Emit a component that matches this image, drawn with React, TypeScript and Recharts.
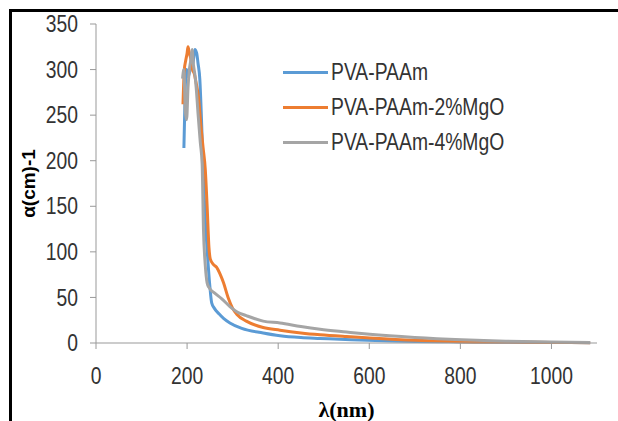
import React from 'react';
import { LineChart, Line, XAxis, YAxis } from 'recharts';

// wavelength (nm) / absorption coefficient pairs
const pvaWave = [193, 196, 199, 202, 206, 210, 213, 217, 221, 224, 228, 232, 236, 240, 245, 250, 254, 260, 270, 280, 294, 320, 367, 404, 450, 492, 560, 650, 800, 1000, 1085];
const pvaAlpha = [214, 280, 300, 292, 298, 305, 307, 322, 318, 307, 289, 240, 180, 135, 95, 62, 44, 38, 32, 27, 22, 16, 11, 8, 6, 5, 3.5, 2.2, 1.2, 0.6, 0.4];

const mg2Wave = [191, 194, 197, 200, 202, 205, 208, 212, 216, 220, 225, 230, 235, 240, 244, 248, 251, 258, 265, 272, 280, 290, 300, 310, 330, 367, 404, 450, 492, 550, 601, 700, 800, 900, 1000, 1085];
const mg2Alpha = [262, 300, 310, 318, 325, 318, 312, 300, 295, 285, 270, 240, 215, 190, 150, 105, 92, 86, 83, 76, 66, 50, 38, 31, 24, 17, 14, 11, 9, 7, 5.5, 3, 1.5, 1, 0.6, 0.4];

const mg4Wave = [190, 193, 196, 199, 202, 205, 208, 211, 214, 217, 220, 224, 229, 233, 236, 240, 244, 248, 260, 275, 294, 310, 330, 367, 404, 450, 492, 550, 601, 700, 803, 900, 1000, 1085];
const mg4Alpha = [290, 300, 255, 245, 280, 300, 310, 322, 305, 295, 280, 252, 220, 197, 124, 85, 66, 61, 55, 49, 40, 34, 30, 24, 22, 18, 15, 12, 9.5, 6, 3.5, 2, 1, 0.5];

const seriesNames = ['PVA-PAAm', 'PVA-PAAm-2%MgO', 'PVA-PAAm-4%MgO'];
const seriesColors = ['#5B9BD5', '#ED7D31', '#A5A5A5'];

const xTicks = [0, 200, 400, 600, 800, 1000];
const yTicks = [0, 50, 100, 150, 200, 250, 300, 350];

const zip = (xs: number[], ys: number[]) => xs.map((x, i) => ({ x, y: ys[i] }));
const allSeries = [zip(pvaWave, pvaAlpha), zip(mg2Wave, mg2Alpha), zip(mg4Wave, mg4Alpha)];

const font = '"Liberation Sans", Arial, sans-serif';
const squeeze = 0.84; // the original uses a narrow font

// tick label drawn with a horizontal squeeze to mimic the condensed face
const NarrowTick = (props: any) => {
  const { x, y, payload, textAnchor, orientation } = props;
  const dy = orientation === 'bottom' ? '0.71em' : '0.355em';
  return (
    <g transform={`translate(${x},${y}) scale(${squeeze},1)`}>
      <text x={0} y={0} dy={dy} textAnchor={textAnchor} fill="#333" fontSize={23} fontFamily={font}>
        {payload.value}
      </text>
    </g>
  );
};

const LegendBox = () => (
  <div style={{ position: 'absolute', left: 283, top: 55, fontFamily: font, fontSize: 23, color: '#333' }}>
    {seriesNames.map((name, i) => (
      <div key={name} style={{ display: 'flex', alignItems: 'center', height: 35, whiteSpace: 'nowrap' }}>
        <span style={{ display: 'inline-block', width: 45, height: 3, background: seriesColors[i], marginRight: 3 }} />
        <span style={{ display: 'inline-block', transform: `scaleX(${squeeze})`, transformOrigin: 'left center' }}>{name}</span>
      </div>
    ))}
  </div>
);

export default function App() {
  return (
    <div style={{ position: 'absolute', left: 0, top: 0, width: 618, height: 421, background: '#fff', overflow: 'hidden' }}>
      <div style={{ position: 'absolute', left: 9, top: 9, right: 0, bottom: 0, borderLeft: '3px solid #000', borderTop: '3px solid #000' }} />
      <LineChart width={618} height={421} margin={{ top: 24, right: 21, left: 46, bottom: 38 }}>
        <XAxis
          type="number"
          dataKey="x"
          domain={[0, 1100]}
          ticks={xTicks}
          interval={0}
          allowDuplicatedCategory={false}
          stroke="#999"
          tickSize={6}
          tickMargin={19}
          height={40}
          tick={<NarrowTick />}
          label={{ value: 'λ(nm)', position: 'insideBottom', offset: -34, style: { fontFamily: '"Liberation Serif", serif', fontWeight: 'bold', fontSize: 22, fill: '#000' } }}
        />
        <YAxis
          type="number"
          dataKey="y"
          domain={[0, 350]}
          ticks={yTicks}
          interval={0}
          stroke="#999"
          tickSize={6}
          tickMargin={12}
          width={50}
          tick={<NarrowTick />}
          label={{ value: 'α(cm)-1', angle: -90, position: 'insideLeft', offset: -18, style: { fontFamily: font, fontWeight: 'bold', fontSize: 19, fill: '#000', textAnchor: 'middle' } }}
        />
        {allSeries.map((data, i) => (
          <Line
            key={seriesNames[i]}
            data={data}
            dataKey="y"
            name={seriesNames[i]}
            type="monotone"
            stroke={seriesColors[i]}
            strokeWidth={3}
            dot={false}
            isAnimationActive={false}
          />
        ))}
      </LineChart>
      <LegendBox />
    </div>
  );
}
